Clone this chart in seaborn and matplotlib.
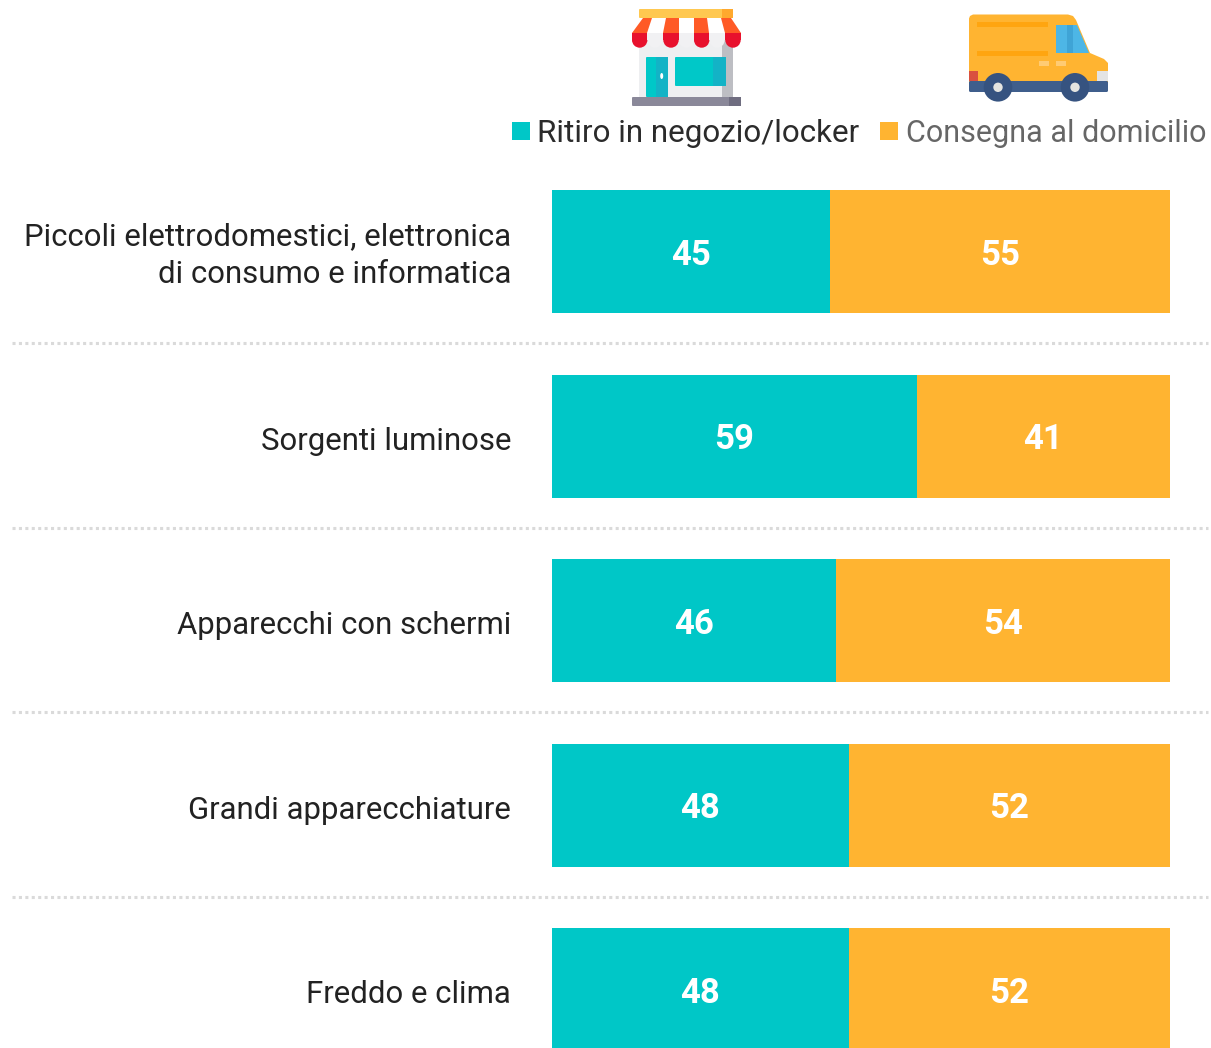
# Ritiro in negozio vs consegna al domicilio - stacked bars with icons
import matplotlib
matplotlib.use('Agg')
import matplotlib.pyplot as plt
import matplotlib.transforms as mtrans
import pandas as pd
import seaborn as sns
from matplotlib.patches import Circle, Ellipse, FancyBboxPatch, Polygon, Rectangle, Wedge

sns.set_theme(style="white")
plt.rcParams['font.family'] = ['Roboto', 'DejaVu Sans']

TEAL = '#00C7C7'
ORANGE = '#FFB431'

categories = ['Piccoli elettrodomestici, elettronica\ndi consumo e informatica',
              'Sorgenti luminose', 'Apparecchi con schermi',
              'Grandi apparecchiature', 'Freddo e clima']
ritiro = [45, 59, 46, 48, 48]
consegna = [55, 41, 54, 52, 52]
legend_labels = ['Ritiro in negozio/locker', 'Consegna al domicilio']

W, H = 1211, 1048
df = pd.DataFrame({'cat': categories, 'ritiro': ritiro, 'consegna': consegna})
df['totale'] = df['ritiro'] + df['consegna']

fig = plt.figure(figsize=(W / 100, H / 100), dpi=100, facecolor='white')
ax = fig.add_axes([552 / W, 0, (1170 - 552) / W, 1])

# ── BARS ─────────────────────────────────
sns.barplot(data=df, y='cat', x='totale', color=ORANGE, saturation=1, width=0.666,
            linewidth=0, ax=ax)
sns.barplot(data=df, y='cat', x='ritiro', color=TEAL, saturation=1, width=0.666,
            linewidth=0, ax=ax)
ax.set_xlim(0, 100)
ax.set_ylim(4.315, -1.362)
ax.set_xlabel('')
ax.set_ylabel('')
ax.set_xticks([])
sns.despine(ax=ax, left=True, bottom=True)
ax.tick_params(axis='y', length=0, pad=29.5)
for i, lab in enumerate(ax.get_yticklabels()):
    lab.set_fontsize(22.4)
    lab.set_color('#222222')
    lab.set_multialignment('right')
    lab.set_linespacing(1.4)
    # first label sits a bit higher, the others a bit lower
    dy = 3.5 if i == 0 else -2
    lab.set_transform(lab.get_transform() + mtrans.ScaledTranslation(0, dy / 100, fig.dpi_scale_trans))

for i, row in df.iterrows():
    ax.text(row['ritiro'] / 2, i + 0.02, str(row['ritiro']), color='white', fontsize=25,
            fontweight='bold', ha='center', va='center')
    ax.text(row['ritiro'] + row['consegna'] / 2, i + 0.02, str(row['consegna']), color='white',
            fontsize=25, fontweight='bold', ha='center', va='center')

# separators, running past the axes to the figure edges
trans = ax.get_yaxis_transform()
for i in range(len(categories) - 1):
    ax.plot([(12 - 552) / 618, (1208 - 552) / 618], [i + 0.497, i + 0.497], transform=trans,
            color='#DADADA', lw=2.2, ls=(0, (1, 1.1)), clip_on=False)

# ── OVERLAY: LEGEND AND ICONS (pixel coords) ──────────
ov = fig.add_axes([0, 0, 1, 1], zorder=5)
ov.set_xlim(0, W)
ov.set_ylim(H, 0)
ov.axis('off')

ov.add_patch(Rectangle((512, 122), 18, 18, color=TEAL, lw=0))
ov.add_patch(Rectangle((880, 122), 18, 18, color=ORANGE, lw=0))
ov.text(537, 133, legend_labels[0], fontsize=22.6, color='#2B2B2B', va='center', ha='left')
ov.text(906, 133, legend_labels[1], fontsize=22.0, color='#666666', va='center', ha='left')


def rect(x0, y0, x1, y1, color):
    ov.add_patch(Rectangle((x0, y0), x1 - x0, y1 - y0, color=color, lw=0))


def rrect(x0, y0, x1, y1, color, r=1.5):
    ov.add_patch(FancyBboxPatch((x0 + r, y0 + r), x1 - x0 - 2 * r, y1 - y0 - 2 * r,
                                boxstyle=f'round,pad={r},rounding_size={r}', color=color, lw=0))


# negozio
rect(639, 33, 733, 97, '#EEEFF1')
rect(722, 33, 733, 97, '#BDBEC3')
rrect(646, 57, 668, 97, '#00C8C8', 1)
rect(656, 57, 668, 97, '#13B3C6')
ov.add_patch(Ellipse((661.7, 76), 3, 6, color='white', lw=0))
rrect(675, 57, 726, 86, '#00C8C8', 1)
rect(713, 57, 726, 86, '#13B3C6')
rrect(632, 97, 741, 106, '#8A8899', 1)
rect(729, 97, 741, 106, '#6F6D80')
# tenda
stripes = [[(643, 18), (652, 18), (647, 33), (632, 33)],
           [(666, 18), (679, 18), (679, 33), (663, 33)],
           [(694, 18), (707, 18), (709, 33), (694, 33)],
           [(721, 18), (731, 18), (741, 33), (725, 33)]]
whites = [[(652, 18), (666, 18), (663, 33), (647, 33)],
          [(679, 18), (694, 18), (694, 33), (679, 33)],
          [(707, 18), (721, 18), (725, 33), (709, 33)]]
for s in whites:
    ov.add_patch(Polygon(s, color='#FFFFFF', lw=0))
for s in stripes:
    ov.add_patch(Polygon(s, color='#FF5A26', lw=0))
for cx in [655, 686.5, 717]:
    rect(cx - 7.7, 33, cx + 7.7, 40, '#F1F1F3')
    ov.add_patch(Wedge((cx, 40), 7.7, 0, 180, color='#F1F1F3', lw=0))
for cx in [639.7, 671, 701.7, 733]:
    rect(cx - 7.7, 33, cx + 7.7, 40, '#E8112D')
    ov.add_patch(Wedge((cx, 40), 7.7, 0, 180, color='#E8112D', lw=0))
rrect(639, 9, 733, 18, '#FFC850', 1)
rect(722, 9, 733, 18, '#FFA92E')

# furgone
ov.add_patch(Polygon([(973, 14.5), (1068, 14.5), (1073, 16), (1076, 20), (1090, 53), (1104, 59),
                      (1108, 63), (1108, 84), (969, 84), (969, 18.5), (970, 16)],
                     color=ORANGE, lw=0))
rect(977, 22, 1048, 27, '#FFA510')
rect(977, 51, 1048, 56, '#FFA510')
rect(1039, 61, 1049, 65.5, '#FFCB73')
rect(1056, 61, 1066, 65.5, '#FFCB73')
ov.add_patch(Polygon([(1056, 25), (1077, 25), (1089, 53), (1056, 53)], color='#4DB6E6', lw=0))
rect(1067, 25, 1073, 53, '#3FA4D6')
rect(969, 71, 978, 81, '#D9503F')
rect(1097, 71, 1108, 81, '#E4E4E4')
rrect(969, 81, 1108, 92, '#3F5E8C', 1.5)
for cx in [998, 1075]:
    ov.add_patch(Circle((cx, 87.3), 14.3, color='#365380', lw=0))
    ov.add_patch(Circle((cx, 87.3), 4.7, color='#E4E4E0', lw=0))

plt.savefig('out.png', dpi=100)
plt.close()
